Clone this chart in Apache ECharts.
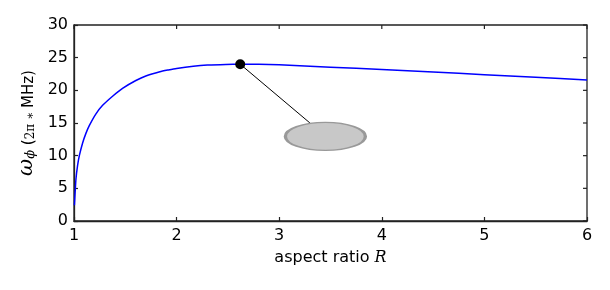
<!DOCTYPE html>
<html>
<head>
<meta charset="utf-8">
<script src="https://cdn.jsdelivr.net/npm/echarts@6/dist/echarts.min.js"></script>
<style>
html,body{margin:0;padding:0;background:#fff;}
#c{width:610px;height:290px;}
</style>
</head>
<body>
<div id="c"></div>
<script>
// aspect ratio R
var ratioR = [1.004, 1.019, 1.035, 1.052, 1.084, 1.117, 1.149, 1.214, 1.279, 1.376, 1.473, 1.603, 1.7, 1.837, 1.92, 2.0, 2.163, 2.3, 2.48, 2.62, 2.8, 3.0, 3.5, 4.0, 4.5, 5.0, 5.5, 6.0];
// omega_phi (2pi * MHz)
var omegaPhi = [2.4, 6.4, 8.5, 10.0, 11.95, 13.45, 14.6, 16.4, 17.7, 19.1, 20.3, 21.5, 22.2, 22.85, 23.12, 23.35, 23.68, 23.86, 23.97, 24.0, 23.98, 23.9, 23.55, 23.2, 22.8, 22.4, 22.0, 21.6];
// annotation: peak marker, connector end, ellipse centre
var peakPoint = [2.62, 24.0];
var connectorEnd = [3.30, 15.0];
var ellipseCenter = [3.45, 12.95];
// axes
var xMin = 1, xMax = 6, xStep = 1;
var yMin = 0, yMax = 30, yStep = 5;
var xTicks = [1, 2, 3, 4, 5, 6];
var yTicks = [0, 5, 10, 15, 20, 25, 30];
var xTitle = 'aspect ratio ';
var xTitleVar = 'R';

var curve = ratioR.map(function (r, i) { return [r, omegaPhi[i]]; });

var frameColor = '#222';
function axisLine() { return { show: true, onZero: false, lineStyle: { color: frameColor, width: 1.3 } }; }
function tickIn() { return { show: true, inside: true, length: 4, lineStyle: { color: frameColor, width: 1.2 } }; }
var lblFont = { fontFamily: 'DejaVu Sans', fontSize: 16, color: '#000' };

var chart = echarts.init(document.getElementById('c'), null, { renderer: 'canvas' });
chart.setOption({
  animation: false,
  backgroundColor: '#fff',
  grid: { left: 74, right: 23, top: 25, bottom: 69, containLabel: false,
          show: true, borderColor: frameColor, borderWidth: 1.3, backgroundColor: 'transparent' },
  xAxis: {
    type: 'value', min: xMin, max: xMax, interval: xStep, position: 'bottom',
    axisLine: axisLine(), axisTick: tickIn(), splitLine: { show: false },
    axisLabel: Object.assign({ margin: 7 }, lblFont),
    name: '{t|' + xTitle + '}{v|' + xTitleVar + '}',
    nameLocation: 'middle', nameGap: 29,
    nameTextStyle: {
      rich: {
        t: { fontFamily: 'DejaVu Sans', fontSize: 16, color: '#000' },
        v: { fontFamily: 'DejaVu Serif', fontStyle: 'italic', fontSize: 16, color: '#000' }
      }
    }
  },
  yAxis: {
    type: 'value', min: yMin, max: yMax, interval: yStep, position: 'left',
    axisLine: axisLine(), axisTick: tickIn(), splitLine: { show: false },
    axisLabel: Object.assign({ margin: 6 }, lblFont),
    name: '{w|ω}{s|ϕ}{p| (}{m|2π ∗ }{p|MHz)}',
    nameLocation: 'middle', nameGap: 28, nameRotate: 90,
    nameTextStyle: {
      rich: {
        w: { fontFamily: 'DejaVu Serif', fontStyle: 'italic', fontSize: 21, color: '#000', verticalAlign: 'bottom' },
        s: { fontFamily: 'DejaVu Serif', fontStyle: 'italic', fontSize: 13, color: '#000', verticalAlign: 'bottom' },
        p: { fontFamily: 'DejaVu Sans', fontSize: 15, color: '#000', verticalAlign: 'bottom' },
        m: { fontFamily: 'DejaVu Serif', fontSize: 12, color: '#000', verticalAlign: 'bottom' }
      }
    }
  },
  series: [{
    type: 'line', data: curve, smooth: 0.2, showSymbol: false,
    lineStyle: { color: '#0000ff', width: 1.5 }, z: 2
  }, {
    type: 'line', data: [peakPoint, connectorEnd], showSymbol: false,
    lineStyle: { color: '#000', width: 1 }, z: 3
  }, {
    type: 'scatter', data: [ellipseCenter], symbol: 'circle', symbolSize: [80, 28],
    itemStyle: { color: '#c8c8c8', borderColor: '#999999', borderWidth: 2, opacity: 1 }, z: 4
  }, {
    type: 'scatter', data: [peakPoint], symbol: 'circle', symbolSize: 10,
    itemStyle: { color: '#000', opacity: 1 }, z: 5
  }, {
    // top-edge tick marks, placed through the x scale
    type: 'custom', silent: true, z: 6, clip: false,
    data: xTicks.map(function (v) { return [v, yMax]; }),
    renderItem: function (params, api) {
      var p = api.coord([api.value(0), api.value(1)]);
      return { type: 'line', shape: { x1: p[0], y1: p[1], x2: p[0], y2: p[1] + 4 },
               style: { stroke: frameColor, lineWidth: 1.2 } };
    }
  }, {
    // right-edge tick marks, placed through the y scale
    type: 'custom', silent: true, z: 6, clip: false,
    data: yTicks.map(function (v) { return [xMax, v]; }),
    renderItem: function (params, api) {
      var p = api.coord([api.value(0), api.value(1)]);
      return { type: 'line', shape: { x1: p[0], y1: p[1], x2: p[0] - 4, y2: p[1] },
               style: { stroke: frameColor, lineWidth: 1.2 } };
    }
  }]
});
</script>
</body>
</html>
